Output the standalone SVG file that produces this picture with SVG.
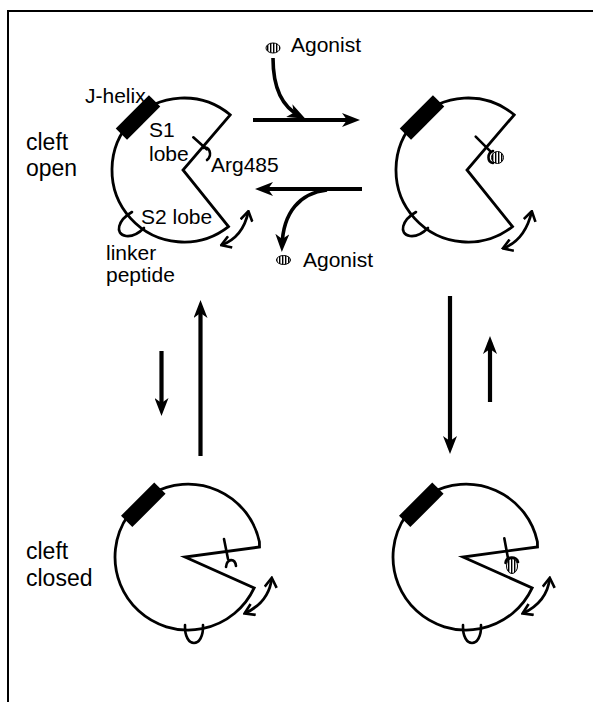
<svg xmlns="http://www.w3.org/2000/svg" width="593" height="702" viewBox="0 0 593 702">
  <style>
    .lbl { font-family: "Liberation Sans", Arial, sans-serif; font-size: 21px; fill: #000; }
    .big { font-size: 23px; }
    .outline { fill: #fff; stroke: #000; stroke-width: 2.8; stroke-linejoin: miter; }
    .thin { fill: none; stroke: #000; stroke-width: 2.6; stroke-linecap: round; }
    .helix { fill: #000; }
    .flex { fill: none; stroke: #000; stroke-width: 2.8; marker-start: url(#vee); marker-end: url(#vee); }
    .flow { fill: none; stroke: #000; stroke-width: 4.2; marker-end: url(#head); }
    .flow-curve { fill: none; stroke: #000; stroke-width: 3.6; marker-end: url(#head); }
    .lig { fill: url(#stripes); stroke: #000; stroke-width: 1; }
  </style>
  <defs>
    <!-- barbed arrowhead for the transition arrows -->
    <marker id="head" viewBox="0 0 18 14" markerUnits="userSpaceOnUse" markerWidth="18" markerHeight="14" refX="12" refY="7" orient="auto">
      <path d="M0,0 L18,7 L0,14 L5,7 Z" fill="#000"/>
    </marker>
    <!-- open chevron for the lobe-flexing double arrows -->
    <marker id="vee" viewBox="0 0 12 14" markerUnits="userSpaceOnUse" markerWidth="12" markerHeight="14" refX="10" refY="7" orient="auto-start-reverse">
      <path d="M1,1 L10.5,7 L1,13" fill="none" stroke="#000" stroke-width="2.6"/>
    </marker>
    <!-- vertical hatching of the agonist molecule -->
    <pattern id="stripes" patternUnits="userSpaceOnUse" width="3" height="3">
      <rect width="3" height="3" fill="#fff"/>
      <rect width="1.4" height="3" fill="#000"/>
    </pattern>
  </defs>

  <rect width="593" height="702" fill="#fff"/>
  <!-- frame -->
  <path d="M8,702 V11 H593" fill="none" stroke="#000" stroke-width="2"/>

  <!-- state labels -->
  <g id="label-open">
    <text class="lbl big" x="26" y="150">cleft</text>
    <text class="lbl big" x="26" y="176">open</text>
  </g>
  <g id="label-closed">
    <text class="lbl big" x="26" y="559">cleft</text>
    <text class="lbl big" x="26" y="586">closed</text>
  </g>

  <!-- apo, cleft open -->
  <g id="apo-open" transform="translate(184,170)">
    <path class="outline" d="M44.5,56.6 A72,72 0 1 1 46.2,-55.2 L-1,0 Z"/>
    <rect class="helix" x="-23.5" y="-8" width="47" height="16" transform="translate(-46,-52.5) rotate(-45)"/>
    <path class="thin" d="M-52,42 C-66,50 -70,64 -58,66 C-50,67 -44,62 -40,58"/>
    <path class="thin" d="M9.3,-32.7 L22.7,-20.7"/>
    <path class="thin" d="M19,-22 C25,-25 29,-15 23,-10"/>
    <path class="flex" d="M37.7,75 Q59,67 64.3,41.7"/>
    <text class="lbl" x="-99" y="-67">J-helix</text>
    <text class="lbl" x="-35" y="-33.5">S1</text>
    <text class="lbl" x="-35" y="-9">lobe</text>
    <text class="lbl" x="27" y="2.3">Arg485</text>
    <text class="lbl" x="-43" y="53.8">S2 lobe</text>
    <text class="lbl" x="-78" y="89.6">linker</text>
    <text class="lbl" x="-78" y="112">peptide</text>
  </g>

  <!-- agonist bound, cleft open -->
  <g id="bound-open" transform="translate(468,170)">
    <path class="outline" d="M44.5,56.6 A72,72 0 1 1 46.2,-55.2 L-1,0 Z"/>
    <rect class="helix" x="-23.5" y="-8" width="47" height="16" transform="translate(-46,-52.5) rotate(-45)"/>
    <path class="thin" d="M-52,42 C-66,50 -70,64 -58,66 C-50,67 -44,62 -40,58"/>
    <path class="thin" d="M7.7,-33.3 L22.7,-18.3"/>
    <ellipse class="lig" cx="29.5" cy="-12.5" rx="6" ry="6"/>
    <path class="thin" d="M25,-19 C19,-17 19,-8 25,-7"/>
    <path class="flex" d="M35.3,78.3 Q57,70 63.7,41.7"/>
  </g>

  <!-- apo, cleft closed -->
  <g id="apo-closed" transform="translate(188,557)">
    <path class="outline" d="M66.2,30.9 A73,73 0 1 1 71.4,-15.2 L71.5,-10 L-3,0 Z"/>
    <rect class="helix" x="-23.5" y="-8" width="47" height="16" transform="translate(-44.7,-52.2) rotate(-45)"/>
    <path class="thin" d="M-3,68 C-4,92 16,92 15,68"/>
    <path class="thin" d="M36,-18 L40,2"/>
    <path class="thin" d="M38,10 C39,1 47,1 48,9"/>
    <path class="flex" d="M57,56.3 Q81,45 83.7,21.3"/>
  </g>

  <!-- agonist bound, cleft closed -->
  <g id="bound-closed" transform="translate(466,557)">
    <path class="outline" d="M66.2,30.9 A73,73 0 1 1 71.4,-15.2 L71.5,-10 L-3,0 Z"/>
    <rect class="helix" x="-23.5" y="-8" width="47" height="16" transform="translate(-44.7,-52.2) rotate(-45)"/>
    <path class="thin" d="M-3,68 C-4,92 16,92 15,68"/>
    <path class="thin" d="M38.3,-18.7 L42.3,3"/>
    <ellipse class="lig" cx="46" cy="9" rx="5.5" ry="7.5"/>
    <path class="thin" d="M39.5,6 C40,-1 51,-1 52,5"/>
    <path class="flex" d="M57,56.3 Q81,45 83.7,21.3"/>
  </g>

  <!-- free agonist -->
  <g id="agonist-in">
    <ellipse class="lig" cx="273" cy="48" rx="7" ry="5"/>
    <text class="lbl" x="291" y="52">Agonist</text>
  </g>
  <g id="agonist-out">
    <ellipse class="lig" cx="283.5" cy="260" rx="7" ry="4.5"/>
    <text class="lbl" x="303" y="266.5">Agonist</text>
  </g>

  <!-- transitions -->
  <g id="connectors">
    <path class="flow" d="M253,120 H354"/>
    <path class="flow-curve" d="M273,58 C273,92 284,108 300,116"/>
    <path class="flow" d="M362,189 H261"/>
    <path class="flow-curve" d="M327,190 C300,193 283,212 282,246"/>
    <path class="flow" d="M161.5,351 V410"/>
    <path class="flow" d="M200.5,456 V306"/>
    <path class="flow" d="M450,296 V448"/>
    <path class="flow" d="M490,402 V342"/>
  </g>
</svg>
